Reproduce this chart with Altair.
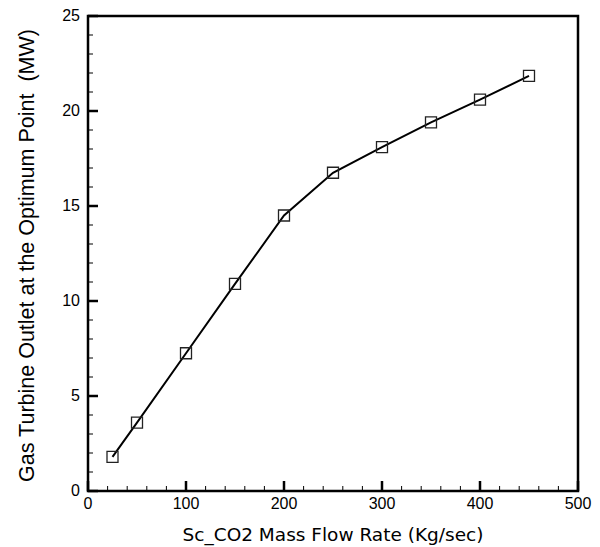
import altair as alt
import pandas as pd

# Data
flow_rate = [25, 50, 100, 150, 200, 250, 300, 350, 400, 450]
gt_outlet = [1.8, 3.6, 7.25, 10.9, 14.5, 16.75, 18.1, 19.4, 20.6, 21.85]

x_major = [0, 100, 200, 300, 400, 500]
x_labels = ["0", "100", "200", "300", "400", "500"]
x_minor = [20, 40, 60, 80, 120, 140, 160, 180, 220, 240, 260, 280,
           320, 340, 360, 380, 420, 440, 460, 480]
y_major = [0, 5, 10, 15, 20, 25]
y_labels = ["0", "5", "10", "15", "20", "25"]
y_minor = [1, 2, 3, 4, 6, 7, 8, 9, 11, 12, 13, 14, 16, 17, 18, 19,
           21, 22, 23, 24]
x_title = "Sc_CO2 Mass Flow Rate (Kg/sec)"
y_title = "Gas Turbine Outlet at the Optimum Point\u00a0 (MW)"

W, H = 490, 475
X_MAX, Y_MAX = 500, 25

df = pd.DataFrame({"x": flow_rate, "y": gt_outlet})

xscale = alt.Scale(domain=[0, X_MAX], nice=False, zero=True)
yscale = alt.Scale(domain=[0, Y_MAX], nice=False, zero=True)

X = alt.X("x:Q", scale=xscale, axis=None)
Y = alt.Y("y:Q", scale=yscale, axis=None)

base = alt.Chart(df)

line = base.mark_line(color="black", strokeWidth=2).encode(x=X, y=Y)
points = base.mark_point(shape="square", size=121, filled=False,
                         color="#222222", strokeWidth=1.3, opacity=1).encode(x=X, y=Y)


def xticks(vals, length_px, width):
    # inward tick: from the bottom edge up by length_px pixels
    t = pd.DataFrame({"x": vals})
    t["x2"] = t["x"]
    t["y"] = 0.0
    t["y2"] = length_px * Y_MAX / H
    return alt.Chart(t).mark_rule(color="black", strokeWidth=width).encode(
        x=X, x2="x2:Q",
        y=alt.Y("y:Q", scale=yscale, axis=None), y2="y2:Q")


def yticks(vals, length_px, width):
    # inward tick: from the left edge right by length_px pixels
    t = pd.DataFrame({"y": vals})
    t["y2"] = t["y"]
    t["x"] = 0.0
    t["x2"] = length_px * X_MAX / W
    return alt.Chart(t).mark_rule(color="black", strokeWidth=width).encode(
        y=Y, y2="y2:Q",
        x=alt.X("x:Q", scale=xscale, axis=None), x2="x2:Q")


xlab = alt.Chart(pd.DataFrame({"x": x_major, "t": x_labels})).mark_text(
    font="Liberation Sans", fontSize=16, color="black",
    align="center", baseline="middle").encode(
    x=X, y=alt.value(H + 12.5), text="t:N")

ylab = alt.Chart(pd.DataFrame({"y": y_major, "t": y_labels})).mark_text(
    font="Liberation Sans", fontSize=16, color="black",
    align="right", baseline="middle").encode(
    y=Y, x=alt.value(-8), text="t:N")

xtitle = alt.Chart(pd.DataFrame({"t": [x_title]})).mark_text(
    font="DejaVu Sans", fontSize=18.5, color="black",
    align="center", baseline="alphabetic").encode(
    x=alt.value(W / 2), y=alt.value(H + 50), text="t:N")

ytitle = alt.Chart(pd.DataFrame({"t": [y_title]})).mark_text(
    font="Liberation Sans", fontSize=21.5, color="black", angle=270,
    align="center", baseline="alphabetic").encode(
    x=alt.value(-54), y=alt.value(H / 2 + 2), text="t:N")

chart = alt.layer(
    line,
    xticks(x_minor, 5, 1), xticks(x_major, 10, 2.5),
    yticks(y_minor, 5, 1), yticks(y_major, 10, 2.5),
    xlab, ylab, xtitle, ytitle,
    points,
).properties(
    width=W, height=H, autosize="none",
    padding={"left": 80, "top": 8, "right": 14, "bottom": 56},
).configure(background="white").configure_view(stroke="black", strokeWidth=2.5)

chart.save("out.html", embed_options={"renderer": "svg", "actions": False})
